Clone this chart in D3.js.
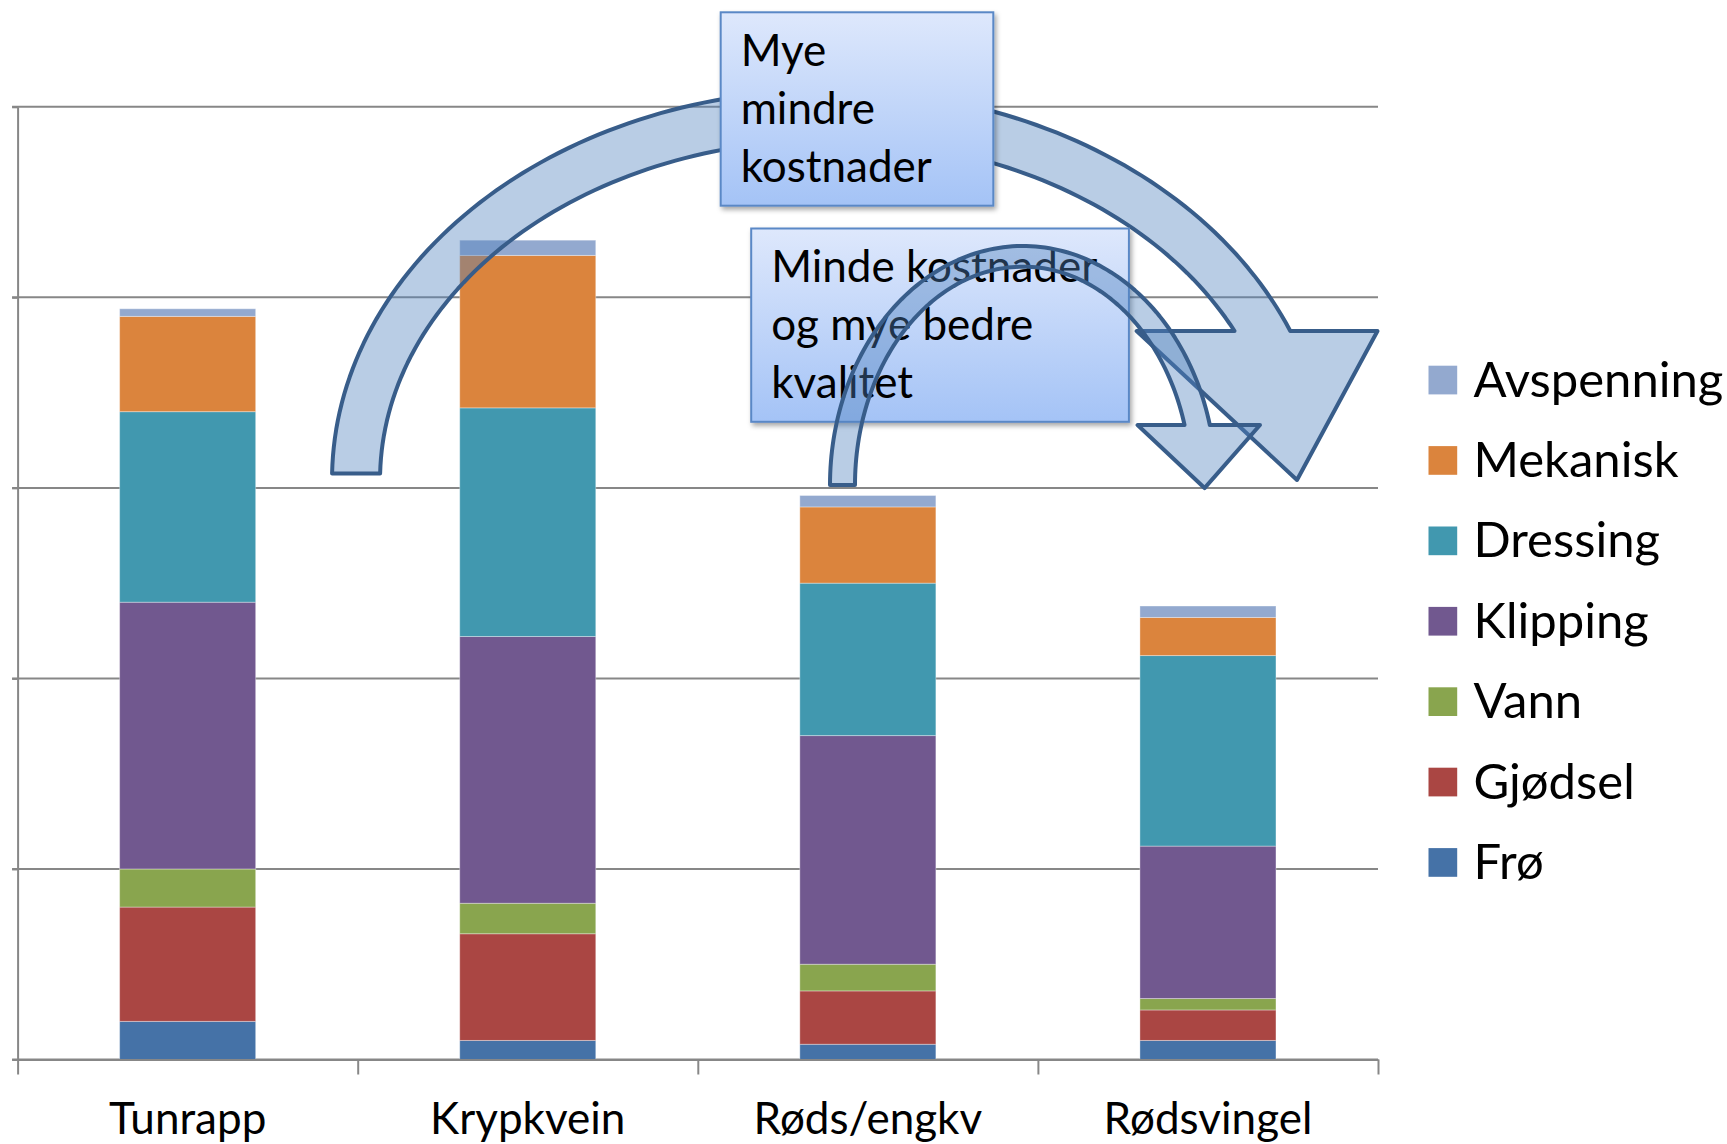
<!DOCTYPE html>
<html><head><meta charset="utf-8">
<script src="https://cdn.jsdelivr.net/npm/d3@7"></script>
<style>
body{margin:0;background:#fff;}
svg{display:block;font-family:Lato,'Open Sans',sans-serif;}
</style>
</head><body>
<svg id="chart" width="1727" height="1144"></svg>
<script>
// ---------- data ----------
const categories = ["Tunrapp", "Krypkvein", "Røds/engkv", "Rødsvingel"];
const seriesNames = ["Frø", "Gjødsel", "Vann", "Klipping", "Dressing", "Mekanisk", "Avspenning"];
const seriesColors = ["#4572a7", "#aa4643", "#89a54e", "#71588f", "#4198af", "#db843d", "#93a9cf"];
const froValues        = [0.20, 0.10, 0.08, 0.10];
const gjodselValues    = [0.60, 0.56, 0.28, 0.16];
const vannValues       = [0.20, 0.16, 0.14, 0.06];
const klippingValues   = [1.40, 1.40, 1.20, 0.80];
const dressingValues   = [1.00, 1.20, 0.80, 1.00];
const mekaniskValues   = [0.50, 0.80, 0.40, 0.20];
const avspenningValues = [0.04, 0.08, 0.06, 0.06];
const yTicks = [0, 1, 2, 3, 4, 5];
const note1Lines = ["Mye", "mindre", "kostnader"];
const note2Lines = ["Minde kostnader", "og mye bedre", "kvalitet"];

const seriesValues = [froValues, gjodselValues, vannValues, klippingValues,
                      dressingValues, mekaniskValues, avspenningValues];

// ---------- layout ----------
const svg = d3.select("#chart");
const margin = {top: 106.8, left: 17.6, right: 349, bottom: 84.5};
const W = 1727 - margin.left - margin.right;
const H = 1144 - margin.top - margin.bottom;
const g = svg.append("g").attr("transform", `translate(${margin.left},${margin.top})`);

const x = d3.scaleBand().domain(categories).range([0, W]).paddingInner(0.6).paddingOuter(0.3);
const xu = d3.scaleLinear().domain([0, categories.length]).range([0, W]); // category-slot units
const y = d3.scaleLinear().domain([0, 5]).range([H, 0]);

// table for stacking
const table = categories.map((c, i) => {
  const row = {category: c};
  seriesNames.forEach((s, j) => row[s] = seriesValues[j][i]);
  return row;
});
const stacked = d3.stack().keys(seriesNames)(table);
const color = d3.scaleOrdinal().domain(seriesNames).range(seriesColors);

// ---------- defs ----------
const defs = svg.append("defs");
const grad = defs.append("linearGradient").attr("id", "boxGrad")
  .attr("x1", 0).attr("y1", 0).attr("x2", 0).attr("y2", 1);
grad.append("stop").attr("offset", "0%").attr("stop-color", "#dee8fc");
grad.append("stop").attr("offset", "100%").attr("stop-color", "#a4c3f6");
const f = defs.append("filter").attr("id", "shadow").attr("x", "-10%").attr("y", "-10%")
  .attr("width", "130%").attr("height", "130%");
f.append("feDropShadow").attr("dx", 2).attr("dy", 3).attr("stdDeviation", 2.5)
  .attr("flood-color", "#000").attr("flood-opacity", 0.35);

// ---------- gridlines & axes ----------
const gridColor = "#878787";
g.append("g").selectAll("line").data(yTicks).join("line")
  .attr("x1", -5.5).attr("x2", W)
  .attr("y1", d => y(d)).attr("y2", d => y(d))
  .attr("stroke", gridColor).attr("stroke-width", 2);

// bars
g.append("g").selectAll("g").data(stacked).join("g")
  .attr("fill", d => color(d.key))
  .selectAll("rect").data(d => d).join("rect")
  .attr("x", d => x(d.data.category))
  .attr("width", x.bandwidth())
  .attr("y", d => y(d[1]))
  .attr("height", d => y(d[0]) - y(d[1]))
  .attr("stroke", "rgba(255,255,255,0.35)").attr("stroke-width", 1);

// y axis line
const yAxis = d3.axisLeft(y).tickValues(yTicks).tickSize(5.5).tickFormat("").tickSizeOuter(0);
const yg = g.append("g").call(yAxis);
yg.selectAll("line,path").attr("stroke", gridColor).attr("stroke-width", 2);

// x axis with boundary ticks
const xAxis = d3.axisBottom(xu).tickValues(d3.range(categories.length + 1)).tickSize(15).tickFormat("").tickSizeOuter(0);
const xg = g.append("g").attr("transform", `translate(0,${H})`).call(xAxis);
xg.selectAll("line,path").attr("stroke", gridColor).attr("stroke-width", 2);

// category labels
g.append("g").selectAll("text").data(categories).join("text")
  .attr("x", d => x(d) + x.bandwidth() / 2)
  .attr("y", H + 74.5)
  .attr("text-anchor", "middle")
  .attr("font-size", 44)
  .attr("fill", "#000")
  .text(d => d);

// ---------- legend ----------
const legend = svg.append("g").attr("transform", "translate(1428.5,380)");
const legendItems = seriesNames.slice().reverse();
const li = legend.selectAll("g").data(legendItems).join("g")
  .attr("transform", (d, i) => `translate(0,${i * 80.4})`);
li.append("rect").attr("x", 0).attr("y", -14.3).attr("width", 28.7).attr("height", 28.7)
  .attr("fill", d => color(d));
li.append("text").attr("x", 45).attr("y", 16.5).attr("font-size", 49).attr("fill", "#000").text(d => d);

// ---------- annotations ----------
// geometry expressed in category-slot units (u) and value units (v)
function arrowPath(a) {
  const CX = xu(a.cx), CY = y(a.cy);
  const RXo = xu(a.rxo) - xu(0), RYo = y(0) - y(a.ryo);
  const RXi = xu(a.rxi) - xu(0), RYi = y(0) - y(a.ryi);
  const tailY = y(a.tailV), baseY = y(a.baseV);
  const to0 = Math.PI - Math.asin((CY - tailY) / RYo);
  const ti0 = Math.PI - Math.asin((CY - tailY) / RYi);
  const to1 = Math.asin((CY - baseY) / RYo);
  const ti1 = Math.asin((CY - baseY) / RYi);
  const pts = [];
  const N = 120;
  for (let k = 0; k <= N; k++) {
    const t = to0 + (to1 - to0) * k / N;
    pts.push([CX + RXo * Math.cos(t), CY - RYo * Math.sin(t)]);
  }
  pts.push([xu(a.barbR), baseY]);
  pts.push([xu(a.tipU), y(a.tipV)]);
  pts.push([xu(a.barbL), baseY]);
  for (let k = 0; k <= N; k++) {
    const t = ti1 + (ti0 - ti1) * k / N;
    pts.push([CX + RXi * Math.cos(t), CY - RYi * Math.sin(t)]);
  }
  return d3.line()(pts) + "Z";
}

const bigArrow = {cx: 2.3888, cy: 3.0417, rxo: 1.4643, ryo: 2.0468, rxi: 1.3231, ryi: 1.7844,
  tailV: 3.0755, baseV: 3.8234, barbL: 3.2903, barbR: 3.9985, tipU: 3.7618, tipV: 3.0417};
const smallArrow = {cx: 2.9562, cy: 3.0152, rxo: 0.5675, ryo: 1.2543, rxi: 0.4940, ryi: 1.1457,
  tailV: 3.0152, baseV: 3.330, barbL: 3.293, barbR: 3.653, tipU: 3.490, tipV: 2.999};

const arrowStyle = sel => sel.attr("fill", "#4f81bd").attr("fill-opacity", 0.4)
  .attr("stroke", "#385d8a").attr("stroke-width", 4).attr("stroke-linejoin", "round");

g.append("path").attr("d", arrowPath(bigArrow)).call(arrowStyle);

function textBox(box, lines) {
  const bx = xu(box.u0), by = y(box.v0), bw = xu(box.u1) - xu(box.u0), bh = y(box.v1) - y(box.v0);
  const bg = g.append("g");
  bg.append("rect").attr("x", bx).attr("y", by).attr("width", bw).attr("height", bh)
    .attr("fill", "url(#boxGrad)").attr("stroke", "#5a88c6").attr("stroke-width", 2)
    .attr("filter", "url(#shadow)");
  bg.selectAll("text").data(lines).join("text")
    .attr("x", bx + 20).attr("y", (d, i) => by + 54 + i * 57.8)
    .attr("font-size", 44).attr("fill", "#000").text(d => d);
}
textBox({u0: 2.0673, u1: 2.8689, v0: 5.496, v1: 4.481}, note1Lines);
textBox({u0: 2.157, u1: 3.2676, v0: 4.3613, v1: 3.3468}, note2Lines);

g.append("path").attr("d", arrowPath(smallArrow)).call(arrowStyle);
</script>
</body></html>
